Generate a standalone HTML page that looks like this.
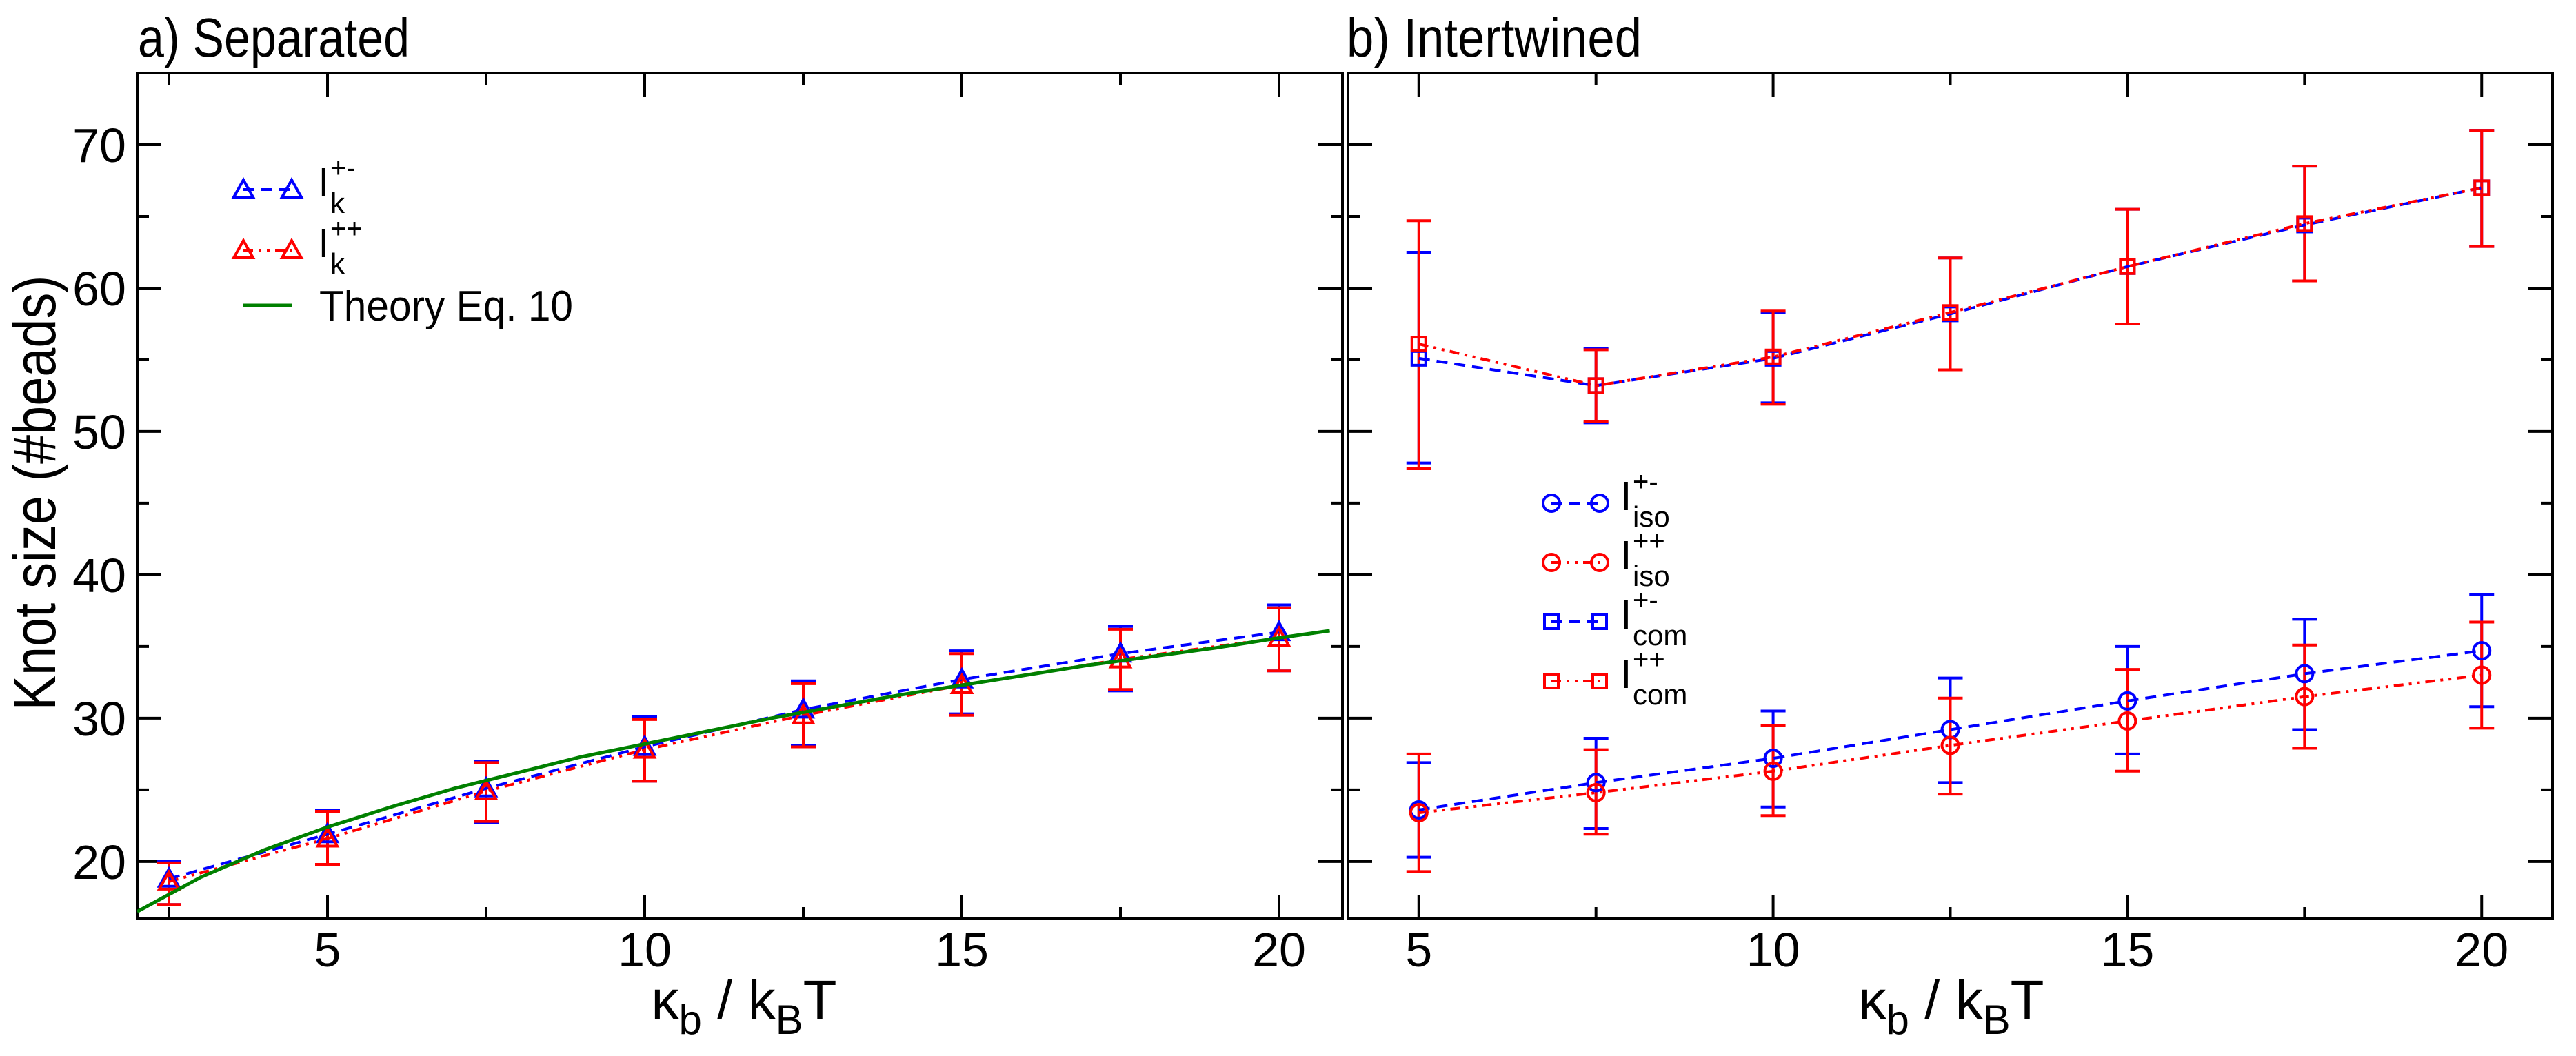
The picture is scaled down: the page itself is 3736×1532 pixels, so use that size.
<!DOCTYPE html>
<html><head><meta charset="utf-8"><style>
html,body{margin:0;padding:0;background:#fff;}
svg{display:block;font-family:"Liberation Sans",sans-serif;}
</style></head><body>
<svg id="chart" width="3736" height="1532" viewBox="0 0 3736 1532" xmlns="http://www.w3.org/2000/svg">
<rect x="0" y="0" width="3736" height="1532" fill="#fff"/>
<g id="layer"></g>
</svg>
<script>
// ---- data: panel a (separated) ----
const xA = [2.5, 5, 7.5, 10, 12.5, 15, 17.5, 20];
const kPM = [18.8, 21.9, 25.1, 28.0, 30.6, 32.7, 34.5, 36.0];
const kPMhi = [20.0, 23.6, 27.0, 30.1, 32.6, 34.7, 36.4, 37.9];
const kPMlo = [17.0, 19.8, 22.7, 25.6, 28.1, 30.3, 31.9, 33.3];
const kPP = [18.6, 21.6, 24.9, 27.8, 30.2, 32.3, 34.1, 35.6];
const kPPhi = [19.9, 23.5, 26.9, 29.9, 32.4, 34.5, 36.2, 37.7];
const kPPlo = [17.0, 19.8, 22.8, 25.6, 28.0, 30.2, 32.0, 33.3];
const theoryX = [2, 3, 4, 5, 6, 7, 8, 9, 10, 11, 12, 13, 14, 15, 16, 17, 18, 19, 20, 20.8];
const theoryY = [16.5, 18.9, 20.8, 22.4, 23.8, 25.1, 26.2, 27.3, 28.2, 29.1, 30.0, 30.8, 31.6, 32.3, 33.0, 33.7, 34.3, 34.9, 35.6, 36.1];
// ---- data: panel b (intertwined) ----
const xB = [5, 7.5, 10, 12.5, 15, 17.5, 20];
const comPM = [55.1, 53.2, 55.1, 58.2, 61.5, 64.4, 67.0];
const comPMhi = [62.5, 55.8, 58.3, 62.1, 65.5, 68.5, 71.0];
const comPMlo = [47.8, 50.6, 52.0, 54.3, 57.5, 60.5, 62.9];
const comPP = [56.1, 53.2, 55.2, 58.3, 61.5, 64.5, 67.0];
const comPPhi = [64.7, 55.7, 58.4, 62.1, 65.5, 68.5, 71.0];
const comPPlo = [47.4, 50.7, 51.9, 54.3, 57.5, 60.5, 62.9];
const isoPM = [23.6, 25.5, 27.2, 29.2, 31.2, 33.1, 34.7];
const isoPMhi = [26.9, 28.6, 30.5, 32.8, 35.0, 36.9, 38.6];
const isoPMlo = [20.3, 22.3, 23.8, 25.5, 27.5, 29.2, 30.8];
const isoPP = [23.4, 24.8, 26.3, 28.1, 29.8, 31.5, 33.0];
const isoPPhi = [27.5, 27.8, 29.5, 31.4, 33.4, 35.1, 36.7];
const isoPPlo = [19.3, 21.9, 23.2, 24.7, 26.3, 27.9, 29.3];
const yTicks = [20, 30, 40, 50, 60, 70];
const xTicksA = [5, 10, 15, 20];
const xTicksB = [5, 10, 15, 20];

const NS = "http://www.w3.org/2000/svg";
const layer = document.getElementById('layer');
function mk(tag, attrs, parent) {
  const e = document.createElementNS(NS, tag);
  for (const k in attrs) e.setAttribute(k, attrs[k]);
  (parent || layer).appendChild(e);
  return e;
}
const TOP = 106, BOT = 1333, YMIN = 16, YMAX = 75;
function yS(v) { return BOT - (v - YMIN) / (YMAX - YMIN) * (BOT - TOP); }
const A = {L: 199, R: 1947, xmin: 2, xmax: 21};
const B = {L: 1955, R: 3702, xmin: 4, xmax: 21};
function xS(p, v) { return p.L + (v - p.xmin) / (p.xmax - p.xmin) * (p.R - p.L); }

const DASH = "16,10";
const DDOT = "14,8,4,8,4,8";

function frame(p, name, minors, majors, showYLabels) {
  const g = mk('g', {});
  
  
  const r = mk('rect', {x: p.L, y: TOP, width: p.R - p.L, height: BOT - TOP, fill: 'none', stroke: '#000', 'stroke-width': 4}, g);
  
  
  minors.forEach(v => {
    const X = xS(p, v);
    mk('line', {x1: X, x2: X, y1: BOT, y2: BOT - 17, stroke: '#000', 'stroke-width': 4}, g);
    mk('line', {x1: X, x2: X, y1: TOP, y2: TOP + 17, stroke: '#000', 'stroke-width': 4}, g);
  });
  majors.forEach(v => {
    const X = xS(p, v);
    mk('line', {x1: X, x2: X, y1: BOT, y2: BOT - 34, stroke: '#000', 'stroke-width': 4}, g);
    mk('line', {x1: X, x2: X, y1: TOP, y2: TOP + 34, stroke: '#000', 'stroke-width': 4}, g);
    const t = mk('text', {x: X, y: 1402, 'font-size': 70, 'text-anchor': 'middle', fill: '#000'}, g);
    t.textContent = v;
    
    
  });
  for (let v = 20; v <= 70; v += 5) {
    const Y = yS(v);
    const len = (v % 10 === 0) ? 35 : 17;
    mk('line', {x1: p.L, x2: p.L + len, y1: Y, y2: Y, stroke: '#000', 'stroke-width': 4}, g);
    mk('line', {x1: p.R, x2: p.R - len, y1: Y, y2: Y, stroke: '#000', 'stroke-width': 4}, g);
  }
  if (showYLabels) {
    yTicks.forEach(v => {
      const t = mk('text', {x: 183, y: yS(v) + 25, 'font-size': 70, 'text-anchor': 'end', fill: '#000'}, g);
      t.textContent = v;
      
      
    });
  }
}
frame(A, 'panel-a', [2.5, 7.5, 12.5, 17.5], xTicksA, true);
frame(B, 'panel-b', [7.5, 12.5, 17.5], xTicksB, false);

function line(p, xs, ys, color, dash, name) {
  const pts = xs.map((x, i) => xS(p, x).toFixed(1) + ',' + yS(ys[i]).toFixed(1)).join(' ');
  const e = mk('polyline', {points: pts, fill: 'none', stroke: color, 'stroke-width': 4, 'stroke-dasharray': dash || 'none'});
  
  
  return e;
}
function errs(p, xs, hi, lo, color, name) {
  xs.forEach((x, i) => {
    const X = xS(p, x), y1 = yS(hi[i]), y2 = yS(lo[i]);
    const g = mk('g', {stroke: color, 'stroke-width': 4});
    
    
    mk('line', {x1: X, x2: X, y1: y1, y2: y2}, g);
    mk('line', {x1: X - 18, x2: X + 18, y1: y1, y2: y1}, g);
    mk('line', {x1: X - 18, x2: X + 18, y1: y2, y2: y2}, g);
  });
}
function marker(kind, X, Y, color, name) {
  let e;
  if (kind === 'tri') {
    e = mk('polygon', {points: `${X},${Y-14} ${X-14},${Y+11} ${X+14},${Y+11}`, fill: 'none', stroke: color, 'stroke-width': 4});
  } else if (kind === 'sq') {
    e = mk('rect', {x: X - 10, y: Y - 10, width: 20, height: 20, fill: 'none', stroke: color, 'stroke-width': 4});
  } else {
    e = mk('circle', {cx: X, cy: Y, r: 12, fill: 'none', stroke: color, 'stroke-width': 4});
  }
  
  
}
function marks(p, xs, ys, kind, color, name) {
  xs.forEach((x, i) => marker(kind, xS(p, x), yS(ys[i]), color, name));
}

// panel a
errs(A, xA, kPMhi, kPMlo, '#0000ff', 'error-bar-k-pm');
errs(A, xA, kPPhi, kPPlo, '#ff0000', 'error-bar-k-pp');
line(A, xA, kPM, '#0000ff', DASH, 'line-k-pm');
line(A, xA, kPP, '#ff0000', DDOT, 'line-k-pp');
marks(A, xA, kPM, 'tri', '#0000ff', 'point-k-pm');
marks(A, xA, kPP, 'tri', '#ff0000', 'point-k-pp');
const th = line(A, theoryX, theoryY, '#008000', null, 'theory-curve');
th.setAttribute('stroke-width', 5);

// panel b
errs(B, xB, comPMhi, comPMlo, '#0000ff', 'error-bar-com-pm');
errs(B, xB, isoPMhi, isoPMlo, '#0000ff', 'error-bar-iso-pm');
errs(B, xB, comPPhi, comPPlo, '#ff0000', 'error-bar-com-pp');
errs(B, xB, isoPPhi, isoPPlo, '#ff0000', 'error-bar-iso-pp');
line(B, xB, comPM, '#0000ff', DASH, 'line-com-pm');
line(B, xB, comPP, '#ff0000', DDOT, 'line-com-pp');
line(B, xB, isoPM, '#0000ff', DASH, 'line-iso-pm');
line(B, xB, isoPP, '#ff0000', DDOT, 'line-iso-pp');
marks(B, xB, comPM, 'sq', '#0000ff', 'point-com-pm');
marks(B, xB, comPP, 'sq', '#ff0000', 'point-com-pp');
marks(B, xB, isoPM, 'circ', '#0000ff', 'point-iso-pm');
marks(B, xB, isoPP, 'circ', '#ff0000', 'point-iso-pp');

// legends
function legendEntry(x1, x2, y, kind, color, dash, tx, sup, sub, name) {
  const g = mk('g', {});
  
  
  mk('line', {x1: x1, x2: x2, y1: y, y2: y, stroke: color, 'stroke-width': kind ? 4 : 5, 'stroke-dasharray': dash || 'none'}, g);
  if (kind) { marker(kind, x1, y, color, name + '-marker'); marker(kind, x2, y, color, name + '-marker'); }
  if (sup === null) {
    const t = mk('text', {x: tx, y: y + 22, 'font-size': 62, fill: '#000', textLength: 368, lengthAdjust: 'spacingAndGlyphs'}, g);
    t.textContent = 'Theory Eq. 10';
    return;
  }
  const t1 = mk('text', {x: tx, y: y + 10, 'font-size': 57, fill: '#000'}, g);
  t1.textContent = 'l';
  const t2 = mk('text', {x: tx + 16, y: y - 18, 'font-size': 40, fill: '#000'}, g);
  t2.textContent = sup;
  const t3 = mk('text', {x: tx + 16, y: y + 34, 'font-size': 42, fill: '#000'}, g);
  t3.textContent = sub;
}
legendEntry(353, 423, 275, 'tri', '#0000ff', DASH, 463, '+-', 'k', 'legend-k-pm');
legendEntry(353, 423, 363, 'tri', '#ff0000', DDOT, 463, '++', 'k', 'legend-k-pp');
legendEntry(353, 424, 443, null, '#008000', null, 463, null, null, 'legend-theory');
legendEntry(2250, 2320, 730, 'circ', '#0000ff', DASH, 2352, '+-', 'iso', 'legend-iso-pm');
legendEntry(2250, 2320, 816, 'circ', '#ff0000', DDOT, 2352, '++', 'iso', 'legend-iso-pp');
legendEntry(2250, 2320, 902, 'sq', '#0000ff', DASH, 2352, '+-', 'com', 'legend-com-pm');
legendEntry(2250, 2320, 988, 'sq', '#ff0000', DDOT, 2352, '++', 'com', 'legend-com-pp');
</script>
<svg style="position:absolute;left:0;top:0" width="3736" height="1532" viewBox="0 0 3736 1532" xmlns="http://www.w3.org/2000/svg" font-family="Liberation Sans, sans-serif">
<text x="200" y="82" font-size="80" fill="#000" textLength="394" lengthAdjust="spacingAndGlyphs">a) Separated</text>
<text x="1953" y="82" font-size="80" fill="#000" textLength="428" lengthAdjust="spacingAndGlyphs">b) Intertwined</text>
<text transform="translate(80,715) rotate(-90)" text-anchor="middle" font-size="86" fill="#000" textLength="631" lengthAdjust="spacingAndGlyphs">Knot size (#beads)</text>
<text x="1079" y="1478" text-anchor="middle" font-size="80" fill="#000">κ<tspan font-size="60" dy="22">b</tspan><tspan dy="-22"> / k</tspan><tspan font-size="60" dy="22">B</tspan><tspan dy="-22">T</tspan></text>
<text x="2830" y="1478" text-anchor="middle" font-size="80" fill="#000">κ<tspan font-size="60" dy="22">b</tspan><tspan dy="-22"> / k</tspan><tspan font-size="60" dy="22">B</tspan><tspan dy="-22">T</tspan></text>
</svg>
</body></html>
